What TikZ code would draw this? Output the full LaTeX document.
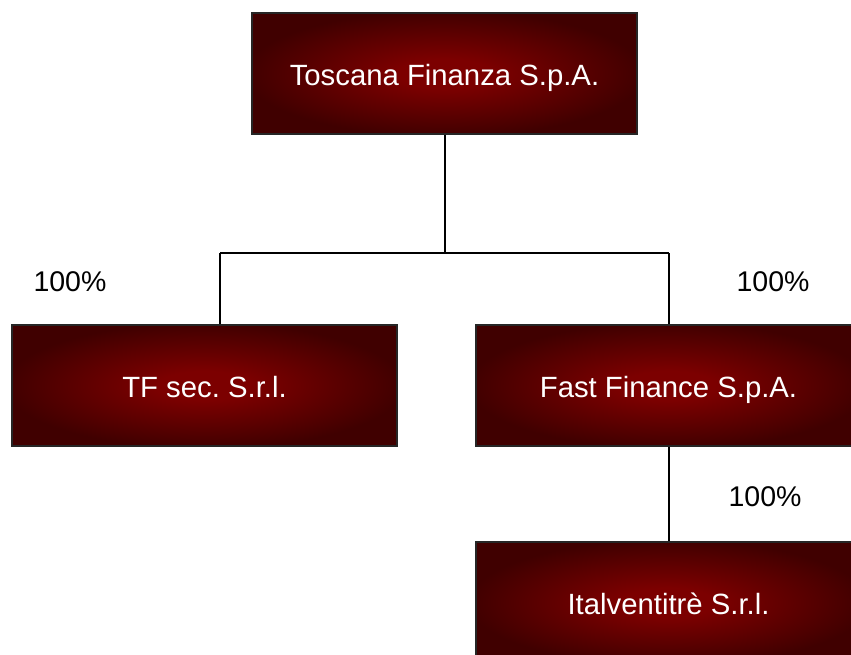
\documentclass[tikz,border=0pt]{standalone}
\usepackage{fontspec}
\setmainfont{Liberation Sans}
\frenchspacing
\definecolor{boxin}{RGB}{124,0,0}
\definecolor{boxout}{RGB}{64,0,0}
\pgfdeclareradialshading{boxshade}{\pgfpoint{0bp}{0bp}}{%
  color(0bp)=(boxin); color(6bp)=(boxin); color(26bp)=(boxout); color(50bp)=(boxout)}
\tikzset{
  entity/.style={rectangle, draw=black!85, line width=2pt, shading=boxshade,
    minimum width=385pt, minimum height=121pt, text=white,
    text height=24pt, text depth=0pt, font=\fontsize{29.3}{34}\selectfont\frenchspacing},
  share/.style={text=black, font=\fontsize{28.5}{34}\selectfont},
  link/.style={draw=black, line width=2pt}
}
\begin{document}
\begin{tikzpicture}[x=1pt,y=-1pt]
\useasboundingbox (0,0) rectangle (851,655);
\clip (0,0) rectangle (851,655);
\fill[white] (0,0) rectangle (851,655);
\node[entity] (top) at (444.5,73.5) {Toscana Finanza S.p.A.};
\node[entity] (tf) at (204.5,385.5) {TF sec. S.r.l.};
\node[entity] (ff) at (668.5,385.5) {Fast Finance S.p.A.};
\node[entity] (it) at (668.5,602.5) {Italventitrè S.r.l.};
\coordinate (j) at (444.5,253);
\coordinate (bl) at (220,253);
\coordinate (br) at (668.5,253);
\draw[link] (top.south) -- (j);
\draw[link] (bl) -- (br);
\draw[link] (bl) -- (bl |- tf.north);
\draw[link] (br) -- (ff.north);
\draw[link] (ff.south) -- (it.north);
\node[share] (p1) at (70,282) {100\%};
\node[share] (p2) at (773,282) {100\%};
\node[share] (p3) at (765,497) {100\%};
\end{tikzpicture}
\end{document}
